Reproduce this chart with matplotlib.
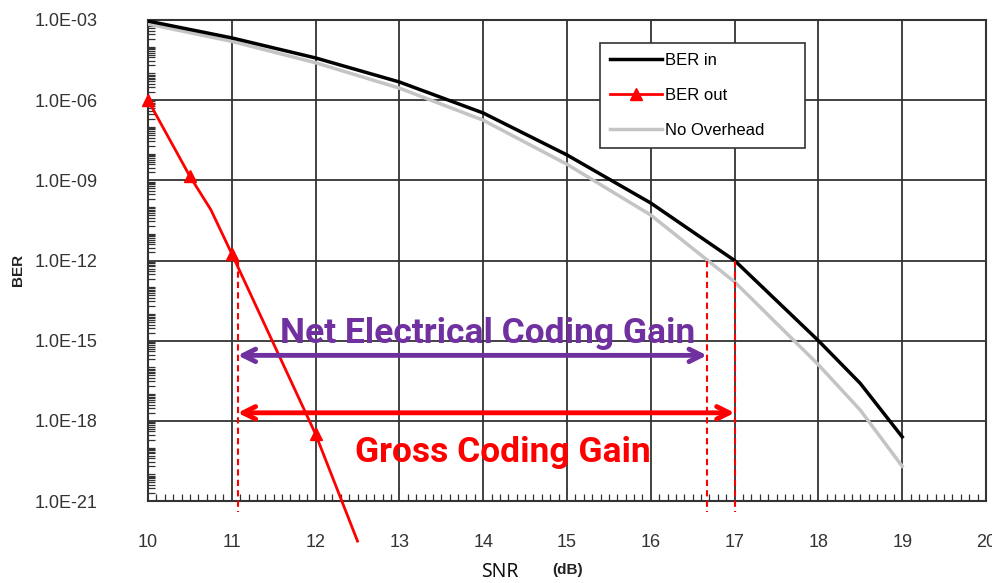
import numpy as np
import matplotlib
matplotlib.use('Agg')
import matplotlib.pyplot as plt
from matplotlib.ticker import FixedLocator, LogLocator, MultipleLocator, NullFormatter

# BER curves (log10 values)
snr_in = [10, 11, 12, 13, 14, 15, 16, 17, 18, 18.5, 19]
ber_in_log = [-3.04, -3.67, -4.42, -5.32, -6.48, -8.05, -9.85, -12.0, -15.0, -16.6, -18.6]

snr_no = [10, 11, 12, 13, 14, 15, 16, 17, 18, 18.5, 19]
ber_no_log = [-3.15, -3.8, -4.6, -5.55, -6.75, -8.4, -10.3, -12.8, -15.9, -17.6, -19.7]

snr_out = [10, 10.5, 10.75, 11, 12, 12.5]
ber_out_log = [-6.0, -8.85, -10.1, -11.75, -18.5, -22.5]
out_marks = [0, 1, 3, 4]

# gain markers
snr_coded = 11.07
snr_net = 16.67
snr_gross = 17.0
ber_ref = 1e-12
ber_dash_end = 10 ** -21.4
ber_net_arrow = 10 ** -15.55
ber_gross_arrow = 10 ** -17.7

ytick_vals = [1e-3, 1e-6, 1e-9, 1e-12, 1e-15, 1e-18, 1e-21]
ytick_labels = ['1.0E-03', '1.0E-06', '1.0E-09', '1.0E-12', '1.0E-15', '1.0E-18', '1.0E-21']

plt.rcParams['font.family'] = ['Liberation Sans', 'DejaVu Sans']

fig = plt.figure(figsize=(9.92, 5.83), dpi=100)
ax = fig.add_axes([148 / 992, 82 / 583, 838 / 992, 481 / 583])

ax.plot(snr_in, 10 ** np.array(ber_in_log), color='black', lw=2.5, label='BER in', zorder=4)
ax.plot(snr_out, 10 ** np.array(ber_out_log), color='red', lw=2, marker='^', ms=8,
        markevery=out_marks, label='BER out', clip_on=False, zorder=5)
ax.plot(snr_no, 10 ** np.array(ber_no_log), color='#c4c4c4', lw=2.5, label='No Overhead', zorder=3)

# dashed red verticals
for xv in [snr_coded, snr_net, snr_gross]:
    ax.plot([xv, xv], [ber_ref, ber_dash_end], color='red', lw=1.5, ls=(0, (3, 2)),
            clip_on=False, zorder=5)

# gain arrows
ax.annotate('', xy=(snr_net, ber_net_arrow), xytext=(snr_coded, ber_net_arrow),
            arrowprops=dict(arrowstyle='<->, head_length=0.9, head_width=0.45',
                            color='#7030a0', lw=3.5, shrinkA=0, shrinkB=0), zorder=6)
ax.annotate('', xy=(snr_gross, ber_gross_arrow), xytext=(snr_coded, ber_gross_arrow),
            arrowprops=dict(arrowstyle='<->, head_length=0.9, head_width=0.45',
                            color='red', lw=3.5, shrinkA=0, shrinkB=0), zorder=6)

ax.text(14.05, 10 ** -14.75, 'Net Electrical Coding Gain', color='#7030a0', fontsize=25.5,
        fontweight='bold', family=['Roboto', 'DejaVu Sans'], ha='center', va='center', zorder=7)
ax.text(14.24, 10 ** -19.2, 'Gross Coding Gain', color='red', fontsize=25.5,
        fontweight='bold', family=['Roboto', 'DejaVu Sans'], ha='center', va='center', zorder=7)

ax.set_yscale('log')
ax.set_xlim(10, 20)
ax.set_ylim(1e-21, 1e-3)

ax.yaxis.set_major_locator(FixedLocator(ytick_vals))
ax.set_yticklabels(ytick_labels)
ax.yaxis.set_minor_locator(LogLocator(base=10, subs=np.arange(1, 10), numticks=1000))
ax.yaxis.set_minor_formatter(NullFormatter())
ax.xaxis.set_major_locator(MultipleLocator(1))
ax.xaxis.set_minor_locator(MultipleLocator(0.1))

ax.tick_params(axis='both', which='major', length=0, labelsize=13, labelcolor='#333333')
ax.tick_params(axis='y', which='major', pad=36)
ax.tick_params(axis='x', which='major', pad=24)
ax.tick_params(axis='both', which='minor', direction='in', length=5, width=0.9, color='#333333')

ax.grid(True, which='major', color='#333333', lw=1.3)
for sp in ax.spines.values():
    sp.set_color('#333333')
    sp.set_linewidth(1.5)

leg = ax.legend(loc='upper left', bbox_to_anchor=(600 / 992, 1 - 152 / 583, 205 / 992, 109 / 583),
                bbox_transform=fig.transFigure, mode='expand', borderaxespad=0,
                fancybox=False, framealpha=1, edgecolor='#333333', fontsize=12,
                handlelength=3.1, handletextpad=0.2, labelspacing=1.2, borderpad=0.6)
leg.get_frame().set_linewidth(1.2)
leg.set_zorder(10)

fig.text(18 / 992, 1 - 270 / 583, 'BER', rotation=90, fontsize=11, fontweight='bold',
         ha='center', va='center', color='#222222')
fig.text(500 / 992, 1 - 572 / 583, 'SNR', fontsize=14, family=['Noto Sans', 'DejaVu Sans'],
         ha='center', va='center', color='#111111')
fig.text(568 / 992, 1 - 570 / 583, '(dB)', fontsize=11, fontweight='bold',
         ha='center', va='center', color='#222222')

fig.savefig('out.png', dpi=100)
